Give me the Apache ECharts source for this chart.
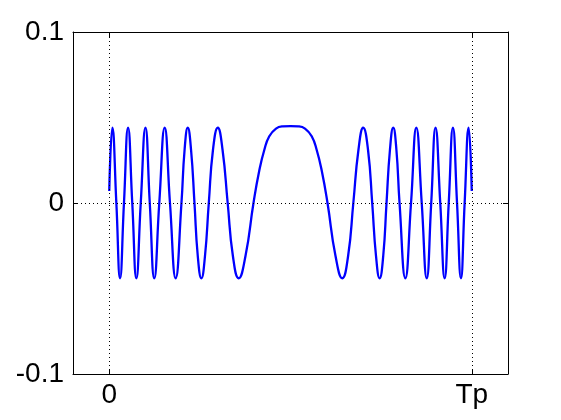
<!DOCTYPE html>
<html>
<head>
<meta charset="utf-8">
<script src="https://cdn.jsdelivr.net/npm/echarts@6/dist/echarts.min.js"></script>
<style>
  html, body { margin: 0; padding: 0; background: #fff; }
  #chart { width: 561px; height: 420px; }
</style>
</head>
<body>
<div id="chart"></div>
<script>
// time in units of Tp (peaks, troughs, zero crossings)
const tValues = [
  0, 0.0086, 0.0196, 0.0298, 0.0406, 0.0519, 0.0635, 0.0748, 0.0869, 0.0999,
  0.1118, 0.1242, 0.1380, 0.1529, 0.1675, 0.1832, 0.1992, 0.2078, 0.2166, 0.2257,
  0.2351, 0.2442, 0.2541, 0.2641, 0.2746, 0.2861, 0.2994, 0.3126, 0.3267, 0.3411,
  0.3571, 0.3758, 0.3979, 0.4139, 0.4277, 0.4415, 0.4600, 0.4785,
  0.5,
  0.5215, 0.5400, 0.5585, 0.5723, 0.5861, 0.6021, 0.6242, 0.6429, 0.6589, 0.6733,
  0.6874, 0.7006, 0.7139, 0.7254, 0.7359, 0.7459, 0.7558, 0.7649, 0.7743, 0.7834,
  0.7922, 0.8008, 0.8168, 0.8325, 0.8471, 0.8620, 0.8758, 0.8882, 0.9001, 0.9131,
  0.9252, 0.9365, 0.9481, 0.9594, 0.9702, 0.9804, 0.9914, 1.0
]
const signal = [
  0.007, 0.044, 0, -0.044, 0, 0.044, 0, -0.044, 0, 0.044,
  0, -0.044, 0, 0.044, 0, -0.044, 0, 0.031, 0.044, 0.031,
  0, -0.031, -0.044, -0.031, 0, 0.031, 0.044, 0.031, 0, -0.031,
  -0.044, -0.031, 0, 0.019, 0.031, 0.039, 0.0435, 0.0448,
  0.045,
  0.0448, 0.0435, 0.039, 0.031, 0.019, 0, -0.031, -0.044, -0.031, 0,
  0.031, 0.044, 0.031, 0, -0.031, -0.044, -0.031, 0, 0.031, 0.044,
  0.031, 0, -0.044, 0, 0.044, 0, -0.044, 0, 0.044, 0,
  -0.044, 0, 0.044, 0, -0.044, 0, 0.044, 0.007
]
const xTicks = [0, 1]
const xTickLabels = ['0', 'Tp']
const yTicks = [-0.1, 0, 0.1]
const yTickLabels = ['-0.1', '0', '0.1']

const labelFont = {
  color: '#000',
  fontSize: 28,
  fontFamily: 'Liberation Sans, Arial, sans-serif',
}
const boxLine = { show: true, onZero: false, lineStyle: { color: '#000', width: 1 } }
const inTick = { show: true, inside: true, length: 5, lineStyle: { color: '#000' } }

const myChart = echarts.init(document.getElementById('chart'), null, { renderer: 'canvas' })
myChart.setOption({
  backgroundColor: '#fff',
  animation: false,
  grid: {
    left: 73,
    right: 53,
    top: 32,
    bottom: 46,
    containLabel: false,
    outerBoundsMode: 'none',
  },
  xAxis: [
    {
      type: 'value',
      min: -0.1,
      max: 1.1,
      axisLine: boxLine,
      axisTick: { ...inTick, customValues: xTicks },
      axisLabel: {
        ...labelFont,
        margin: 7,
        customValues: xTicks,
        formatter: v => xTickLabels[xTicks.indexOf(Math.round(v))],
      },
      splitLine: { show: false },
    },
    {
      type: 'value',
      position: 'top',
      min: -0.1,
      max: 1.1,
      axisLine: boxLine,
      axisTick: { ...inTick, customValues: xTicks },
      axisLabel: { show: false },
      splitLine: { show: false },
    },
  ],
  yAxis: [
    {
      type: 'value',
      min: -0.1,
      max: 0.1,
      interval: 0.1,
      axisLine: boxLine,
      axisTick: inTick,
      axisLabel: {
        ...labelFont,
        margin: 9,
        formatter: v => yTickLabels[yTicks.findIndex(t => Math.abs(t - v) < 1e-9)],
      },
      splitLine: { show: false },
    },
    {
      type: 'value',
      position: 'right',
      min: -0.1,
      max: 0.1,
      interval: 0.1,
      axisLine: boxLine,
      axisTick: inTick,
      axisLabel: { show: false },
      splitLine: { show: false },
    },
  ],
  series: [
    {
      type: 'line',
      xAxisIndex: 0,
      yAxisIndex: 0,
      data: tValues.map((t, i) => [t, signal[i]]),
      smooth: 0.5,
      showSymbol: false,
      lineStyle: { color: '#0000ff', width: 2.3 },
      markLine: {
        silent: true,
        symbol: 'none',
        label: { show: false },
        lineStyle: { color: '#000', type: [1, 3], width: 1 },
        data: [
          { xAxis: xTicks[0] },
          { xAxis: xTicks[1] },
          { yAxis: 0 },
        ],
      },
    },
  ],
})
</script>
</body>
</html>
